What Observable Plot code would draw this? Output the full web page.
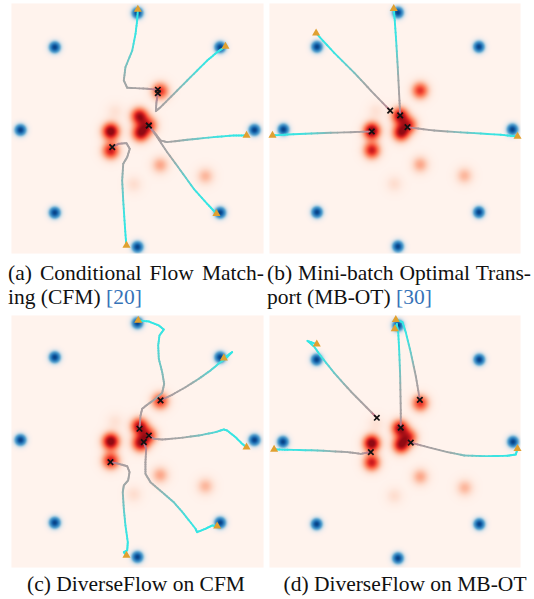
<!DOCTYPE html>
<html><head><meta charset="utf-8">
<script src="https://cdn.jsdelivr.net/npm/d3@7"></script>
<script src="https://cdn.jsdelivr.net/npm/@observablehq/plot@0.6"></script>
<style>
html,body{margin:0;padding:0;background:#fff;}
body{width:534px;height:599px;position:relative;overflow:hidden;font-family:"Liberation Serif",Tinos,"Times New Roman",Times,serif;}
.panel{position:absolute;line-height:0;}
.panel svg{display:block;}
.cap{position:absolute;font-size:21.5px;line-height:24px;color:#111;white-space:nowrap;}
.just{text-align:justify;text-align-last:justify;white-space:normal;}
.center{text-align:center;}
.cite{color:#3673b8;}
</style></head><body>
<div id="root"></div>
<script>
// ---- target distribution: 8 gaussians on a circle (blue)
const targetX = [1, 0.707, 0, -0.707, -1, -0.707, 0, 0.707];
const targetY = [0, 0.707, 1, 0.707, 0, -0.707, -1, -0.707];
// ---- source distribution: mixture of gaussians (red)
const sourceX = [-0.228, 0.016, 0.026, 0.097, -0.228, 0.194, 0.194, 0.581, -0.031, -0.192];
const sourceY = [-0.012, 0.118, -0.028, 0.040, -0.178, 0.333, -0.300, -0.395, -0.465, 0.158];
const sourceW = [1.0, 0.85, 0.85, 0.6, 0.75, 0.65, 0.3, 0.25, 0.11, 0.09];

// ---- trajectories [x, y] from start (x marker) to end (triangle)
const cfmPaths = [
  [[0.174,0.344],[0.083,0.352],[-0.088,0.361],[-0.117,0.423],[-0.103,0.537],[-0.045,0.679],[-0.017,0.822],[-0.003,0.936],[0.003,1.03]],
  [[0.174,0.315],[0.162,0.238],[0.157,0.161],[0.197,0.195],[0.311,0.309],[0.453,0.451],[0.596,0.594],[0.681,0.665],[0.752,0.714]],
  [[0.097,0.038],[0.154,-0.033],[0.197,-0.090],[0.254,-0.104],[0.425,-0.084],[0.652,-0.061],[0.823,-0.047],[0.932,-0.047]],
  [[0.097,0.038],[0.168,-0.061],[0.254,-0.190],[0.368,-0.346],[0.481,-0.503],[0.596,-0.631],[0.675,-0.716]],
  [[-0.216,-0.147],[-0.160,-0.118],[-0.094,-0.113],[-0.066,-0.161],[-0.088,-0.232],[-0.122,-0.289],[-0.131,-0.432],[-0.122,-0.603],[-0.111,-0.774],[-0.100,-0.930],[-0.094,-0.987]]
];
const otPaths = [
  [[0.019,0.120],[0.013,0.248],[-0.002,0.532],[-0.016,0.761],[-0.028,0.932],[-0.037,1.032]],
  [[-0.068,0.162],[-0.237,0.333],[-0.381,0.484],[-0.557,0.655],[-0.715,0.823]],
  [[-0.229,-0.017],[-0.412,-0.023],[-0.703,-0.032],[-0.965,-0.043],[-1.096,-0.051]],
  [[0.083,0.020],[0.316,-0.009],[0.607,-0.028],[0.898,-0.045],[1.044,-0.060]]
];
const dfCfmPaths = [
  [[0.017,0.096],[0.026,0.209],[0.040,0.267],[0.083,0.301],[0.154,0.352],[0.211,0.403],[0.228,0.480],[0.211,0.580],[0.182,0.694],[0.177,0.808],[0.188,0.893],[0.225,0.944],[0.182,0.979],[0.097,1.013],[0.006,1.021]],
  [[0.197,0.338],[0.296,0.386],[0.410,0.451],[0.524,0.523],[0.624,0.594],[0.709,0.665],[0.766,0.708],[0.809,0.751],[0.738,0.699]],
  [[0.097,0.038],[0.140,0.010],[0.211,0.004],[0.353,0.016],[0.524,0.038],[0.667,0.067],[0.738,0.090],[0.766,0.081],[0.838,0.024],[0.895,-0.033],[0.932,-0.061]],
  [[0.054,-0.019],[0.074,-0.075],[0.068,-0.190],[0.068,-0.289],[0.111,-0.361],[0.211,-0.446],[0.310,-0.532],[0.396,-0.631],[0.496,-0.759],[0.510,-0.788],[0.581,-0.759],[0.638,-0.731],[0.681,-0.737]],
  [[-0.231,-0.190],[-0.160,-0.204],[-0.088,-0.224],[-0.068,-0.275],[-0.080,-0.346],[-0.117,-0.389],[-0.126,-0.446],[-0.117,-0.588],[-0.103,-0.731],[-0.083,-0.873],[-0.088,-0.944],[-0.117,-0.959],[-0.094,-0.987]]
];
const dfOtPaths = [
  [[-0.184,0.207],[-0.410,0.433],[-0.555,0.593],[-0.671,0.737],[-0.729,0.819],[-0.787,0.868],[-0.706,0.839]],
  [[0.024,0.123],[0.024,0.274],[0.019,0.564],[0.010,0.796],[0.002,0.941],[-0.010,1.013],[-0.028,0.970]],
  [[0.190,0.361],[0.155,0.564],[0.111,0.767],[0.068,0.941],[0.039,1.028],[-0.019,1.050]],
  [[-0.236,-0.088],[-0.323,-0.103],[-0.439,-0.088],[-0.700,-0.074],[-0.961,-0.068],[-1.077,-0.065]],
  [[0.111,-0.007],[0.257,-0.045],[0.430,-0.088],[0.576,-0.117],[0.750,-0.123],[0.952,-0.120],[1.024,-0.109],[1.039,-0.059]]
];

// ---- captions
const captions = [
  ["(a) Conditional Flow Match-", "ing (CFM) ", "[20]"],
  ["(b) Mini-batch Optimal Trans-", "port (MB-OT) ", "[30]"],
  ["(c) DiverseFlow on CFM"],
  ["(d) DiverseFlow on MB-OT"]
];

// ---- styling / layout
const SRC_SIGMA = 0.05, TGT_SIGMA = 0.035;
const frames = [
  {L:11, T:3, W:252, H:250, xd:[-1.077,1.077], yd:[-1.056,1.081]},
  {L:269, T:3, W:251, H:250, xd:[-1.122,1.070], yd:[-1.060,1.077]},
  {L:11, T:315, W:252, H:252, xd:[-1.077,1.077], yd:[-1.090,1.064]},
  {L:269, T:315, W:251, H:252, xd:[-1.117,1.065], yd:[-1.080,1.086]}
];
const redLUT = d3.range(256).map(i => d3.rgb(d3.interpolateReds(i/255)));
const blueLUT = d3.range(256).map(i => d3.rgb(d3.interpolateBlues(i/255)));
function fieldColor(x, y) {
  let s = 0;
  for (let i = 0; i < sourceX.length; i++) {
    const dx = x - sourceX[i], dy = y - sourceY[i];
    s += sourceW[i] * Math.exp(-(dx*dx + dy*dy) / (2*SRC_SIGMA*SRC_SIGMA));
  }
  let t = 0;
  for (let i = 0; i < targetX.length; i++) {
    const dx = x - targetX[i], dy = y - targetY[i];
    t += Math.exp(-(dx*dx + dy*dy) / (2*TGT_SIGMA*TGT_SIGMA));
  }
  const rc = redLUT[Math.round(255*(0.012 + 0.9*Math.min(1, 1.1*s)))];
  let r = rc.r, g = rc.g, b = rc.b;
  if (t > 0.01) {
    const a = Math.min(1, 2.4*t);
    const bc = blueLUT[Math.round(255*(0.22 + 0.72*Math.min(1, t)))];
    r = r*(1-a) + bc.r*a; g = g*(1-a) + bc.g*a; b = b*(1-a) + bc.b*a;
  }
  return `rgb(${Math.round(r)},${Math.round(g)},${Math.round(b)})`;
}
const pathColor = d3.scaleLinear().domain([0, 0.1, 0.35, 0.72, 1])
  .range(["#c9647c", "#ab9ea0", "#a0a8a8", "#3fe2e0", "#2ee8e6"]).interpolate(d3.interpolateRgb);

function segmentsOf(paths) {
  const segs = [];
  for (const p of paths) {
    const cum = [0];
    for (let i = 1; i < p.length; i++) cum.push(cum[i-1] + Math.hypot(p[i][0]-p[i-1][0], p[i][1]-p[i-1][1]));
    const total = cum[cum.length-1];
    for (let i = 0; i < p.length - 1; i++) {
      const K = 5;
      for (let k = 0; k < K; k++) {
        const f0 = k/K, f1 = (k+1)/K;
        segs.push({
          x1: p[i][0] + (p[i+1][0]-p[i][0])*f0, y1: p[i][1] + (p[i+1][1]-p[i][1])*f0,
          x2: p[i][0] + (p[i+1][0]-p[i][0])*f1, y2: p[i][1] + (p[i+1][1]-p[i][1])*f1,
          c: pathColor((cum[i] + (cum[i+1]-cum[i])*(f0+f1)/2) / total)
        });
      }
    }
  }
  return segs;
}

function panel(paths, f) {
  const starts = paths.map(p => ({x: p[0][0], y: p[0][1]}));
  const ends = paths.map(p => ({x: p[p.length-1][0], y: p[p.length-1][1]}));
  const chart = Plot.plot({
    width: f.W, height: f.H, margin: 0,
    x: {domain: f.xd, axis: null},
    y: {domain: f.yd, axis: null},
    color: {type: "identity"},
    style: {background: "transparent", overflow: "visible"},
    marks: [
      Plot.raster({x1: f.xd[0], x2: f.xd[1], y1: f.yd[0], y2: f.yd[1], pixelSize: 1, fill: fieldColor}),
      Plot.link(segmentsOf(paths), {x1: "x1", y1: "y1", x2: "x2", y2: "y2", stroke: "c", strokeWidth: 1.9, strokeLinecap: "round"}),
      Plot.dot(starts, {x: "x", y: "y", symbol: "times", r: 2.6, stroke: "#111", strokeWidth: 1.7}),
      Plot.dot(ends, {x: "x", y: "y", symbol: "triangle", r: 3, fill: "#e0a030", stroke: "none"})
    ]
  });
  const div = document.createElement("div");
  div.className = "panel";
  div.style.left = f.L + "px"; div.style.top = f.T + "px";
  div.appendChild(chart);
  document.body.appendChild(div);
}
[cfmPaths, otPaths, dfCfmPaths, dfOtPaths].forEach((p, i) => panel(p, frames[i]));

function cap(text, cls, left, top, width, cite) {
  const d = document.createElement("div");
  d.className = "cap " + cls;
  d.style.left = left + "px"; d.style.top = top + "px";
  if (width) d.style.width = width + "px";
  d.appendChild(document.createTextNode(text));
  if (cite) { const s = document.createElement("span"); s.className = "cite"; s.textContent = cite; d.appendChild(s); }
  document.body.appendChild(d);
}
cap(captions[0][0], "just", 8, 261, 256);
cap(captions[0][1], "", 8, 285, null, captions[0][2]);
cap(captions[1][0], "just", 267, 261, 264);
cap(captions[1][1], "", 267, 285, null, captions[1][2]);
cap(captions[2][0], "center", 8, 572, 256);
cap(captions[3][0], "center", 275, 572, 260);
</script>
</body></html>
